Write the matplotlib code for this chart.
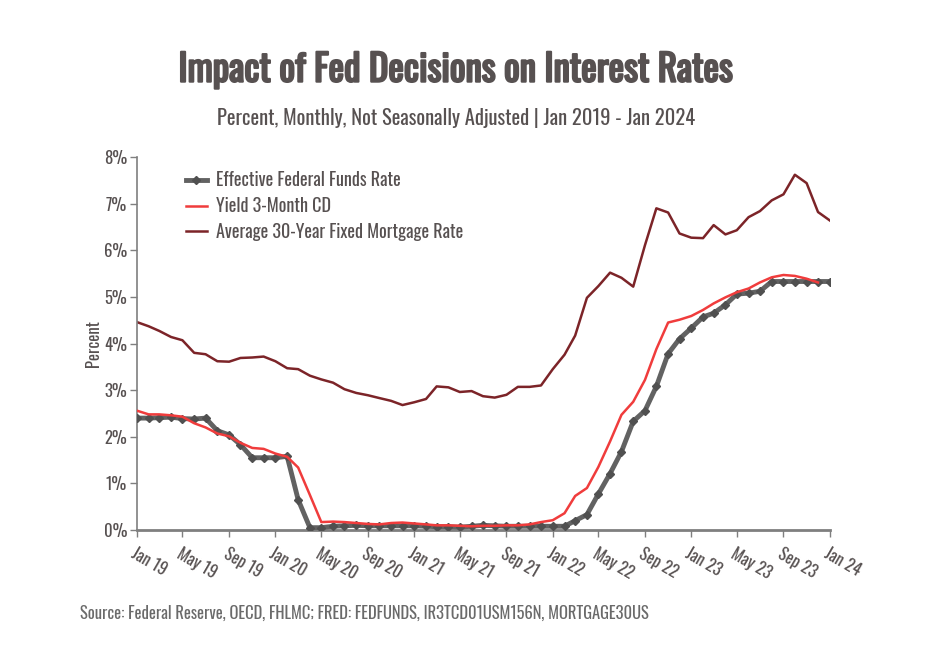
import matplotlib
matplotlib.use("Agg")
import matplotlib.pyplot as plt
import matplotlib.patheffects as pe
import pandas as pd
from matplotlib.ticker import FuncFormatter

plt.rcParams["font.family"] = ["Oswald", "DejaVu Sans"]

# Monthly values, Jan 2019 - Jan 2024
fed_funds = [
    2.40, 2.40, 2.41, 2.42, 2.39, 2.38, 2.40, 2.13, 2.04, 1.83, 1.55, 1.55,
    1.55, 1.58, 0.65, 0.05, 0.05, 0.08, 0.09, 0.10, 0.09, 0.09, 0.09, 0.09,
    0.09, 0.08, 0.07, 0.07, 0.06, 0.08, 0.10, 0.09, 0.08, 0.08, 0.08, 0.08,
    0.08, 0.08, 0.20, 0.33, 0.77, 1.21, 1.68, 2.33, 2.56, 3.08, 3.78, 4.10,
    4.33, 4.57, 4.65, 4.83, 5.06, 5.08, 5.12, 5.33, 5.33, 5.33, 5.33, 5.33,
    5.33,
]
# CD yield ends Dec 2023
cd_yield = [
    2.56, 2.48, 2.48, 2.46, 2.43, 2.29, 2.20, 2.07, 2.01, 1.87, 1.76, 1.74,
    1.64, 1.57, 1.34, 0.75, 0.17, 0.18, 0.17, 0.15, 0.13, 0.12, 0.15, 0.16,
    0.14, 0.12, 0.10, 0.10, 0.09, 0.08, 0.09, 0.09, 0.10, 0.10, 0.12, 0.17,
    0.21, 0.36, 0.73, 0.90, 1.35, 1.90, 2.47, 2.75, 3.22, 3.88, 4.45, 4.51,
    4.59, 4.72, 4.86, 4.99, 5.10, 5.18, 5.31, 5.42, 5.47, 5.45, 5.39, 5.31,
]
mortgage_30y = [
    4.46, 4.37, 4.27, 4.14, 4.07, 3.80, 3.77, 3.62, 3.61, 3.69, 3.70, 3.72,
    3.62, 3.47, 3.45, 3.31, 3.23, 3.16, 3.02, 2.94, 2.89, 2.83, 2.77, 2.68,
    2.74, 2.81, 3.08, 3.06, 2.96, 2.98, 2.87, 2.84, 2.90, 3.07, 3.07, 3.10,
    3.45, 3.76, 4.17, 4.98, 5.23, 5.52, 5.41, 5.22, 6.11, 6.90, 6.81, 6.36,
    6.27, 6.26, 6.54, 6.34, 6.43, 6.71, 6.84, 7.07, 7.20, 7.62, 7.44, 6.82,
    6.64,
]

dates = pd.date_range("2019-01-01", periods=len(fed_funds), freq="MS")
tick_dates = pd.date_range("2019-01-01", "2024-01-01", freq="4MS")
tick_labels = [d.strftime("%b %y") for d in tick_dates]

text_color = "#575151"
axis_color = "#7f7f7f"

fig = plt.figure(figsize=(9.44, 6.62), dpi=100)
ax = fig.add_axes([0.145, 0.1994, 0.734, 0.5634])

ax.plot(dates, fed_funds, color="#626262", linewidth=3.5, marker="D",
        markersize=4, markerfacecolor="#505050", markeredgecolor="#505050",
        label="Effective Federal Funds Rate", zorder=3)
ax.plot(dates[:len(cd_yield)], cd_yield, color="#f03c3c", linewidth=1.8,
        label="Yield 3-Month CD", zorder=4)
ax.plot(dates, mortgage_30y, color="#7c2428", linewidth=1.8,
        label="Average 30-Year Fixed Mortgage Rate", zorder=2)

ax.set_xlim(dates[0], dates[-1])
ax.set_ylim(0, 8)
ax.set_yticks(range(0, 9))
ax.yaxis.set_major_formatter(FuncFormatter(lambda v, _: f"{v:.0f}%"))
ax.set_xticks(tick_dates)
ax.set_xticklabels(tick_labels, rotation=-30, ha="left", va="top",
                   rotation_mode="anchor")

for side in ["top", "right"]:
    ax.spines[side].set_visible(False)
ax.spines["left"].set_color(axis_color)
ax.spines["left"].set_linewidth(1.2)
ax.spines["bottom"].set_color(axis_color)
ax.spines["bottom"].set_linewidth(2)
ax.tick_params(axis="both", colors=axis_color, labelcolor=text_color,
               labelsize=12, length=5, width=1)
ax.tick_params(axis="x", pad=6)
ax.tick_params(axis="y", pad=2)
ax.set_ylabel("Percent", color=text_color, fontsize=12, labelpad=1)

ax.legend(loc="upper left", bbox_to_anchor=(0.05, 1.0), frameon=False,
          fontsize=13, labelcolor=text_color, handlelength=1.15,
          handletextpad=0.5, borderpad=0.3, labelspacing=0.42)

fig.text(0.483, 0.894, "Impact of Fed Decisions on Interest Rates",
         ha="center", va="center", fontsize=26.6, color=text_color,
         path_effects=[pe.withStroke(linewidth=1.5, foreground=text_color)])
fig.text(0.483, 0.822,
         "Percent, Monthly, Not Seasonally Adjusted | Jan 2019 - Jan 2024",
         ha="center", va="center", fontsize=14.8, color=text_color)
fig.text(0.085, 0.073,
         "Source: Federal Reserve, OECD, FHLMC; FRED: FEDFUNDS, "
         "IR3TCD01USM156N, MORTGAGE30US",
         ha="left", va="center", fontsize=11.9, color="#6a6a6a")

fig.savefig("out.png", dpi=100)
